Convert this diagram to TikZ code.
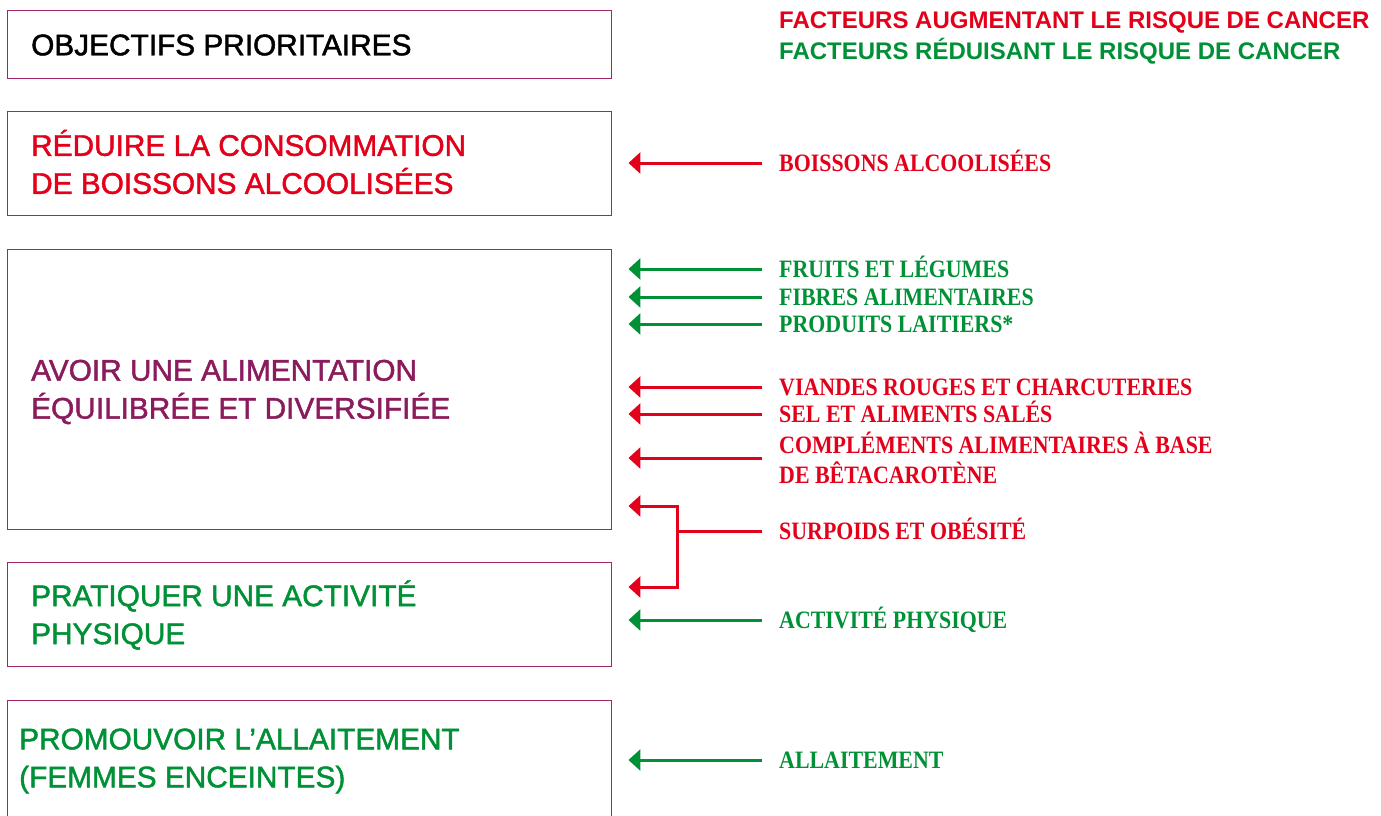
\documentclass[tikz,border=0pt]{standalone}
\usepackage{fontspec}
\setmainfont{Liberation Sans}
\newfontfamily\objfont[FakeBold=1.5]{Liberation Sans}
\newfontfamily\lblfont[FakeStretch=0.876]{Liberation Serif}
\usetikzlibrary{arrows.meta}
\definecolor{cred}{HTML}{E2001A}
\definecolor{cgreen}{HTML}{009036}
\definecolor{cpurple}{HTML}{8A1B5C}
\definecolor{cborder}{HTML}{A02468}
\tikzset{
  objbox/.style={draw=cborder, line width=0.9pt, minimum width=604pt, inner sep=0pt},
  objtext/.style={anchor=west, inner sep=0pt, align=left, font=\fontsize{29.8}{38}\selectfont\objfont},
  legend/.style={anchor=west, inner sep=0pt, text height=17pt, text depth=0pt, font=\fontsize{24}{28}\selectfont\bfseries},
  lbl/.style={anchor=west, inner sep=0pt, text height=16.5pt, text depth=0pt, font=\fontsize{25}{30}\selectfont\lblfont\bfseries},
  lbltwo/.style={anchor=west, inner sep=0pt, align=left, font=\fontsize{25}{30}\selectfont\lblfont\bfseries},
  tip/.style={-{Triangle[length=12pt,width=21pt]}},
  arr/.style={line width=3pt, tip, shorten >=17pt, shorten <=17pt},
}
\begin{document}
\begin{tikzpicture}[x=1pt,y=-1pt]
\useasboundingbox (0,0) rectangle (1381,816);
\clip (0,0) rectangle (1381,816);
% boxes
\node[objbox, minimum height=68pt] (b1) at (309,44) {};
\node[objbox, minimum height=104pt] (b2) at (309,163) {};
\node[objbox, minimum height=280pt] (b3) at (309,389) {};
\node[objbox, minimum height=104pt] (b4) at (309,614) {};
\node[objbox, minimum height=140pt] (b5) at (309,770) {};
% box texts
\node[objtext] (t1) at (31,45) {OBJECTIFS PRIORITAIRES};
\node[objtext, text=cred] (t2) at (31,162) {RÉDUIRE LA CONSOMMATION\\DE BOISSONS ALCOOLISÉES};
\node[objtext, text=cpurple] (t3) at (31,392) {AVOIR UNE ALIMENTATION\\ÉQUILIBRÉE ET DIVERSIFIÉE};
\node[objtext, text=cgreen] (t4) at (31,615) {PRATIQUER UNE ACTIVITÉ\\PHYSIQUE};
\node[objtext, text=cgreen] (t5) at (19,761) {PROMOUVOIR L’ALLAITEMENT\\(FEMMES ENCEINTES)};
% legend
\node[legend, text=cred] (lg1) at (779,20) {FACTEURS AUGMENTANT LE RISQUE DE CANCER};
\node[legend, text=cgreen] (lg2) at (779,51) {FACTEURS RÉDUISANT LE RISQUE DE CANCER};
% labels
\node[lbl, text=cred] (l1) at (779,163) {BOISSONS ALCOOLISÉES};
\node[lbl, text=cgreen] (l2) at (779,269) {FRUITS ET LÉGUMES};
\node[lbl, text=cgreen] (l3) at (779,297) {FIBRES ALIMENTAIRES};
\node[lbl, text=cgreen] (l4) at (779,324) {PRODUITS LAITIERS*};
\node[lbl, text=cred] (l5) at (779,387) {VIANDES ROUGES ET CHARCUTERIES};
\node[lbl, text=cred] (l6) at (779,414) {SEL ET ALIMENTS SALÉS};
\node[lbltwo, text=cred] (l7) at (779,458) {COMPLÉMENTS ALIMENTAIRES À BASE\\DE BÊTACAROTÈNE};
\node[lbl, text=cred] (l8) at (779,531) {SURPOIDS ET OBÉSITÉ};
\node[lbl, text=cgreen] (l9) at (779,620) {ACTIVITÉ PHYSIQUE};
\node[lbl, text=cgreen] (l10) at (779,760) {ALLAITEMENT};
% arrows
\draw[arr, cred] (l1.west) -- (l1.west -| b2.east);
\draw[arr, cgreen] (l2.west) -- (l2.west -| b3.east);
\draw[arr, cgreen] (l3.west) -- (l3.west -| b3.east);
\draw[arr, cgreen] (l4.west) -- (l4.west -| b3.east);
\draw[arr, cred] (l5.west) -- (l5.west -| b3.east);
\draw[arr, cred] (l6.west) -- (l6.west -| b3.east);
\draw[arr, cred] (l7.west) -- (l7.west -| b3.east);
\draw[arr, cgreen] (l9.west) -- (l9.west -| b4.east);
\draw[arr, cgreen] (l10.west) -- (l10.west -| b5.east);
\coordinate (fork) at (677,531);
\coordinate (forkA) at (677,506);
\coordinate (forkB) at (677,587);
\draw[line width=3pt, cred, shorten <=17pt] (l8.west) -- (fork);
\draw[line width=3pt, cred, tip, shorten >=17pt] (fork) -- (forkA) -- (forkA -| b3.east);
\draw[line width=3pt, cred, tip, shorten >=17pt] (fork) -- (forkB) -- (forkB -| b4.east);
\end{tikzpicture}
\end{document}
